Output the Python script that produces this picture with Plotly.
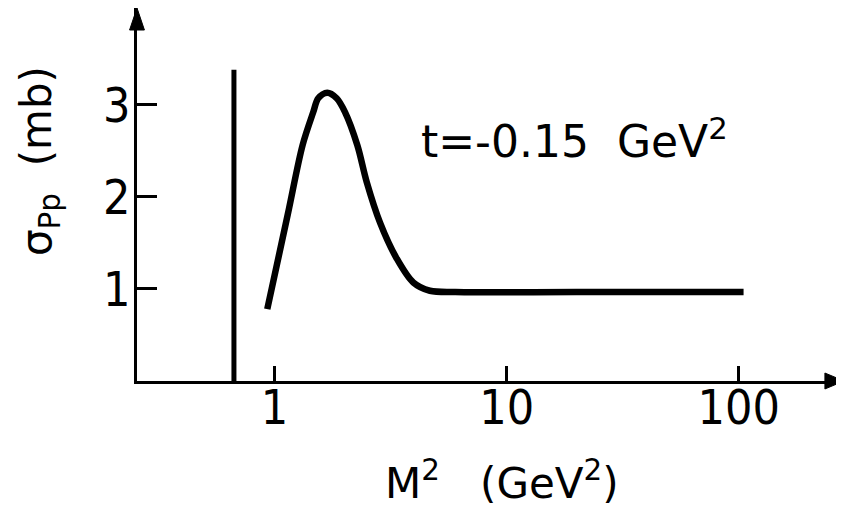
import plotly.graph_objects as go

# ---- data ----
m2_values = [0.93, 1.14, 1.32, 1.468, 1.542, 1.687, 1.851, 2.011, 2.273, 2.495, 2.847,
             3.36, 3.96, 4.67, 6.0, 20.0, 105.0]
sigma_values = [0.78, 1.81, 2.56, 2.92, 3.07, 3.13, 3.07, 2.92, 2.56, 2.16, 1.72,
                1.33, 1.07, 0.98, 0.965, 0.965, 0.965]
threshold_m2 = [0.668, 0.668]
threshold_sigma = [0.0, 3.38]
x_tick_vals = [1, 10, 100]
x_tick_text = ["1", "10", "100"]
y_tick_vals = [1, 2, 3]
y_tick_text = ["1", "2", "3"]

FONT = "DejaVu Sans Condensed, DejaVu Sans, sans-serif"
FONT2 = "DejaVu Sans, sans-serif"

fig = go.Figure()
fig.add_trace(go.Scatter(x=threshold_m2, y=threshold_sigma, mode="lines",
                         line=dict(color="black", width=5), hoverinfo="skip"))
fig.add_trace(go.Scatter(x=m2_values, y=sigma_values, mode="lines",
                         line=dict(color="black", width=6.5, shape="spline", smoothing=0.9),
                         hoverinfo="skip"))

fig.update_layout(
    width=836, height=515,
    margin=dict(l=129, r=0, t=0, b=142),
    plot_bgcolor="white", paper_bgcolor="white",
    showlegend=False,
    xaxis=dict(type="log", range=[-0.593, 2.454], showline=True, linewidth=3,
               linecolor="black", ticks="inside", ticklen=15, tickwidth=3,
               tickcolor="black", tickvals=x_tick_vals, ticktext=x_tick_text,
               showgrid=False, zeroline=False, ticklabelstandoff=-18,
               tickfont=dict(family=FONT, size=48, color="black")),
    yaxis=dict(range=[0, 4.05], showline=True, linewidth=3, linecolor="black",
               ticks="inside", ticklen=20, tickwidth=3, tickcolor="black",
               tickvals=y_tick_vals, ticktext=y_tick_text, showgrid=False,
               zeroline=False, ticklabelstandoff=-6,
               tickfont=dict(family=FONT, size=48, color="black")),
    shapes=[
        dict(type="path", xref="paper", yref="paper",
             path="M 0.973,0.0214 L 1.0,0 L 0.973,-0.0214 Z",
             fillcolor="black", line=dict(color="black", width=1)),
        dict(type="path", xref="paper", yref="paper",
             path="M -0.0105,0.941 L 0,1 L 0.0105,0.941 Z",
             fillcolor="black", line=dict(color="black", width=1)),
    ],
    annotations=[
        dict(text="t=-0.15  GeV<sup>2</sup>", xref="paper", yref="paper",
             x=0.6195, y=0.65, xanchor="center", yanchor="middle", showarrow=False,
             font=dict(family=FONT2, size=44, color="black")),
        dict(text="M<sup>2</sup>   (GeV<sup>2</sup>)", xref="paper", yref="paper",
             x=0.516, y=-0.268, xanchor="center", yanchor="middle", showarrow=False,
             font=dict(family=FONT2, size=42, color="black")),
        dict(text="σ<sub>Pp</sub>  (mb)", xref="paper", yref="paper",
             x=-0.137, y=0.59, xanchor="center", yanchor="middle", showarrow=False,
             textangle=-90, font=dict(family=FONT2, size=42, color="black")),
    ],
)

fig.write_html("out.html")
